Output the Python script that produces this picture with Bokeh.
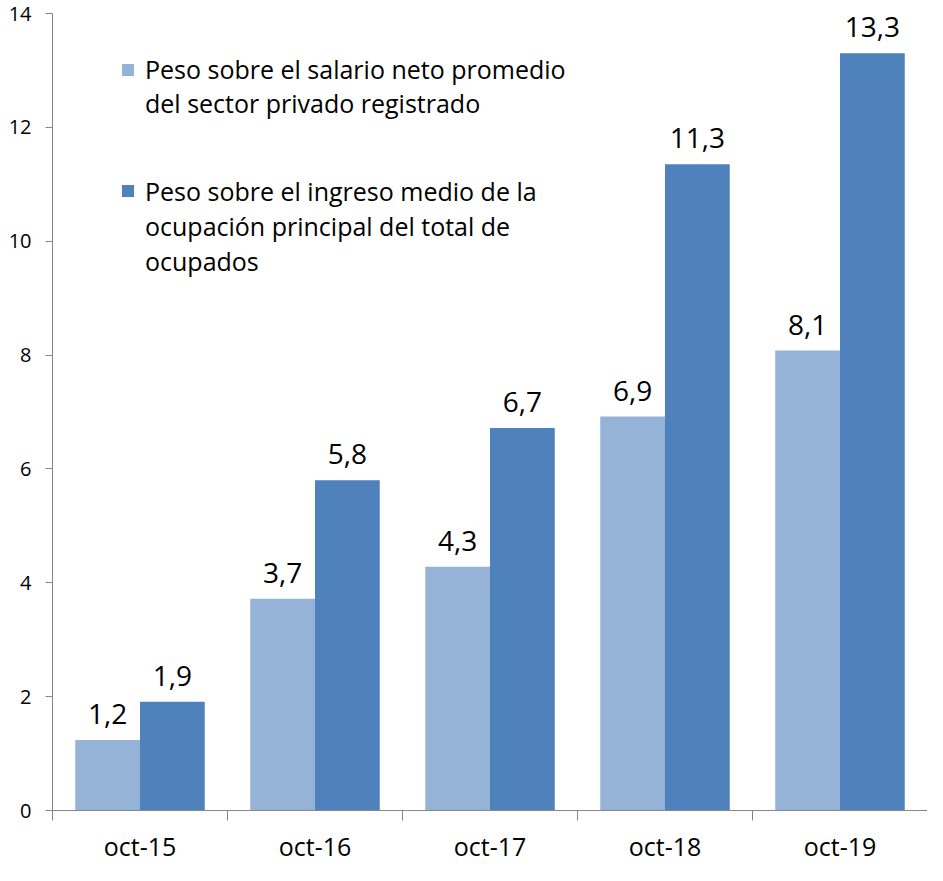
from bokeh.plotting import figure
from bokeh.models import (ColumnDataSource, Range1d, FixedTicker, LabelSet,
                          Legend, LegendItem)
from bokeh.core.properties import value
from bokeh.transform import dodge
from bokeh.embed import file_html
from bokeh.resources import INLINE

categories = ["oct-15", "oct-16", "oct-17", "oct-18", "oct-19"]
salario = [1.24, 3.72, 4.28, 6.92, 8.08]
ingreso = [1.91, 5.80, 6.72, 11.35, 13.30]
salario_lbl = ["1,2", "3,7", "4,3", "6,9", "8,1"]
ingreso_lbl = ["1,9", "5,8", "6,7", "11,3", "13,3"]
legend_a = ["Peso sobre el salario neto promedio",
            "del sector privado registrado"]
legend_b = ["Peso sobre el ingreso medio de la",
            "ocupación principal del total de",
            "ocupados"]
y_ticks = [0, 2, 4, 6, 8, 10, 12, 14]

FONT = "Open Sans"
LIGHT = "#95B3D7"
DARK = "#4F81BD"
AXIS = "#868686"

pos = [i + 0.5 for i in range(len(categories))]
src = ColumnDataSource(dict(x=pos, cat=categories, s=salario, g=ingreso,
                            sl=salario_lbl, gl=ingreso_lbl))

BOTTOM = 55
p = figure(width=927, height=865, output_backend="svg", toolbar_location=None,
           x_range=Range1d(0, len(categories)), y_range=Range1d(0, 14),
           min_border_left=52, min_border_right=0, min_border_top=13,
           min_border_bottom=BOTTOM)
p.outline_line_color = None
p.grid.visible = False
p.background_fill_color = "white"
p.border_fill_color = "white"

W = 0.37
r1 = p.vbar(x=dodge("x", -W / 2, range=p.x_range), top="s", width=W,
            source=src, fill_color=LIGHT, line_color=None)
r2 = p.vbar(x=dodge("x", W / 2, range=p.x_range), top="g", width=W,
            source=src, fill_color=DARK, line_color=None)
blank = p.vbar(x=[], top=[], width=W, fill_alpha=0, line_alpha=0)

for col, lbl, off in (("s", "sl", -W / 2), ("g", "gl", W / 2)):
    p.add_layout(LabelSet(x=dodge("x", off, range=p.x_range), y=col, text=lbl,
                          source=src, text_align="center",
                          text_baseline="alphabetic", y_offset=16,
                          text_font=value(FONT), text_font_size="28px",
                          text_color="black"))

# axes
xa = p.xaxis[0]
xa.ticker = FixedTicker(ticks=pos, minor_ticks=list(range(len(categories) + 1)))
xa.major_label_overrides = {x: c for x, c in zip(pos, categories)}
xa.major_tick_line_color = None
xa.minor_tick_out = 10
xa.minor_tick_in = 0
xa.minor_tick_line_color = AXIS
xa.axis_line_color = AXIS
xa.major_label_text_font = FONT
xa.major_label_text_font_size = "25px"
xa.major_label_text_color = "black"
xa.major_label_standoff = 8

ya = p.yaxis[0]
ya.ticker = FixedTicker(ticks=y_ticks)
ya.minor_tick_line_color = None
ya.major_tick_out = 7
ya.major_tick_in = 0
ya.major_tick_line_color = AXIS
ya.axis_line_color = AXIS
ya.major_label_text_font = FONT
ya.major_label_text_font_size = "20px"
ya.major_label_text_color = "black"
ya.major_label_standoff = 14

common = dict(border_line_color=None, background_fill_alpha=0, padding=0,
              margin=0, glyph_width=15, glyph_height=15, label_standoff=10,
              spacing=0, label_text_font=FONT, label_text_font_size="25px",
              label_text_color="black")
frame_bottom = 865 - BOTTOM
leg_a = Legend(items=[LegendItem(label=legend_a[0], renderers=[r1]),
                      LegendItem(label=legend_a[1], renderers=[blank])],
               location=(68, frame_bottom - 120), label_height=34, **common)
leg_b = Legend(items=[LegendItem(label=legend_b[0], renderers=[r2]),
                      LegendItem(label=legend_b[1], renderers=[blank]),
                      LegendItem(label=legend_b[2], renderers=[blank])],
               location=(68, frame_bottom - 278), label_height=35, **common)
p.add_layout(leg_a)
p.add_layout(leg_b)

open("out.html", "w").write(file_html(p, INLINE))
